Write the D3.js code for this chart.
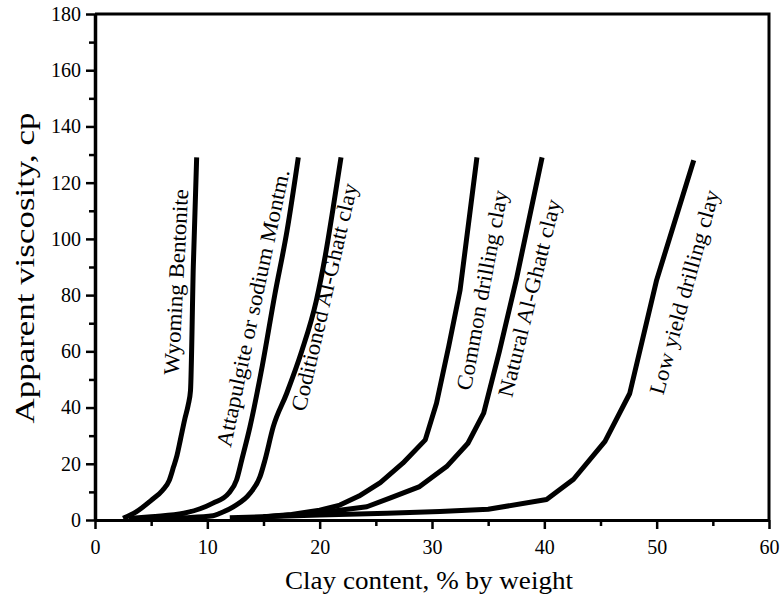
<!DOCTYPE html>
<html lang="en">
  <head>
    <meta charset="UTF-8" />
    <title>Apparent viscosity vs clay content</title>
    <script src="https://d3js.org/d3.v7.min.js"></script>
    <style>
      body {
        margin: 0;
        background: #fff;
      }
    </style>
  </head>
  <body>
    <div class="chart"></div>
  </body>

  <script>
    // clay content (% by weight) and apparent viscosity (cp)
    var wyomingX = [2.5, 3.7, 5.0, 6.0, 6.6, 7.0, 7.3, 7.6, 8.0, 8.3, 8.5, 8.75, 9.05];
    var wyomingY = [0.6, 3, 7, 10.5, 14, 19, 23, 28.5, 36, 41, 46, 90, 129];

    var attapulgiteX = [3, 5, 7.9, 9.35, 10.5, 11.9, 12.6, 13.06, 13.8, 14.9, 16.0, 17.1, 18.1];
    var attapulgiteY = [0.5, 1.2, 2.4, 4, 6, 9.5, 14.2, 21.3, 33.2, 55, 80, 103, 129];

    var coditionedX = [5, 8, 10.5, 11.13, 12.31, 13.8, 14.69, 15.13, 15.87, 17.06, 18.4, 19.7, 20.5, 21.2, 21.9];
    var coditionedY = [0.5, 0.8, 1.5, 2.4, 4.7, 9.5, 15.4, 21.3, 33.2, 45, 60, 78, 94, 111, 129];

    var commonX = [12, 15, 17.5, 20, 21.8, 23.5, 25.4, 27.4, 29.4, 30.4, 31.5, 32.5, 34.0];
    var commonY = [0.8, 1.2, 2, 3.5, 5.3, 8.5, 13.3, 20.2, 28.5, 41.5, 62, 81.8, 129];

    var naturalX = [14, 17.4, 20.9, 24.2, 26.3, 28.9, 31.3, 33.2, 34.6, 36, 37.5, 39.8];
    var naturalY = [0.8, 1.8, 3, 4.7, 7.9, 11.9, 19, 27.3, 38, 60, 85.4, 129];

    var lowYieldX = [15, 20, 26, 30.7, 35, 40.2, 42.6, 45.4, 47.6, 50, 53.3];
    var lowYieldY = [1.2, 1.8, 2.4, 3, 3.8, 7.3, 14.5, 28, 45, 85.4, 128];

    var curveNames = [
      "Wyoming Bentonite",
      "Attapulgite or sodium Montm.",
      "Coditioned Al-Ghatt clay",
      "Common drilling clay",
      "Natural Al-Ghatt clay",
      "Low yield drilling clay",
    ];

    var xTicks = [0, 10, 20, 30, 40, 50, 60];
    var yTicks = [0, 20, 40, 60, 80, 100, 120, 140, 160, 180];

    var serif = '"Liberation Serif", "Times New Roman", "DejaVu Serif", serif';

    var margin = { top: 14, right: 14, bottom: 83, left: 95 };
    var width = 783 - margin.left - margin.right;
    var height = 603 - margin.top - margin.bottom;

    var svg = d3
      .select(".chart")
      .append("svg")
      .attr("width", width + margin.left + margin.right)
      .attr("height", height + margin.top + margin.bottom)
      .append("g")
      .attr("transform", "translate(" + margin.left + "," + margin.top + ")");

    var x = d3.scaleLinear().domain([0, 60]).range([0, width]);
    var y = d3.scaleLinear().domain([0, 180]).range([height, 0]);

    // the first three curves are drawn smooth, the others as broken lines like the original
    var curveKinds = [
      d3.curveMonotoneX,
      d3.curveMonotoneX,
      d3.curveMonotoneX,
      d3.curveLinear,
      d3.curveLinear,
      d3.curveLinear,
    ];

    var series = [
      { xs: wyomingX, ys: wyomingY },
      { xs: attapulgiteX, ys: attapulgiteY },
      { xs: coditionedX, ys: coditionedY },
      { xs: commonX, ys: commonY },
      { xs: naturalX, ys: naturalY },
      { xs: lowYieldX, ys: lowYieldY },
    ].map(function (s, i) {
      return {
        name: curveNames[i],
        curve: curveKinds[i],
        points: s.xs.map(function (v, j) {
          return [v, s.ys[j]];
        }),
      };
    });

    // label placement (data units), tilt in screen degrees, drawn length in px
    var labelPos = [
      { at: [7.2, 84.7], angle: -87, len: 186 },
      { at: [14.05, 75.4], angle: -78, len: 283 },
      { at: [20.4, 79.3], angle: -77, len: 233 },
      { at: [34.45, 81.8], angle: -79.5, len: 203 },
      { at: [38.65, 79.0], angle: -76, len: 203 },
      { at: [52.45, 81.1], angle: -74.5, len: 211 },
    ];

    // minor ticks
    svg
      .append("g")
      .attr("transform", "translate(0," + height + ")")
      .call(d3.axisBottom(x).tickValues([5, 15, 25, 35, 45, 55]).tickSize(6).tickFormat(""))
      .call(function (g) {
        g.select(".domain").remove();
        g.selectAll("line").attr("stroke-width", 2.5);
      });
    svg
      .append("g")
      .call(d3.axisLeft(y).tickValues([10, 30, 50, 70, 90, 110, 130, 150, 170]).tickSize(6).tickFormat(""))
      .call(function (g) {
        g.select(".domain").remove();
        g.selectAll("line").attr("stroke-width", 2.5);
      });

    // x axis
    svg
      .append("g")
      .attr("transform", "translate(0," + height + ")")
      .call(d3.axisBottom(x).tickValues(xTicks).tickSize(9).tickSizeOuter(0).tickPadding(11))
      .call(function (g) {
        g.select(".domain").attr("stroke-width", 3);
        g.selectAll("line").attr("stroke-width", 2.5);
        g.selectAll("text").style("font-family", serif).style("font-size", "20px");
      });

    // y axis
    svg
      .append("g")
      .call(d3.axisLeft(y).tickValues(yTicks).tickSize(9).tickSizeOuter(0).tickPadding(5))
      .call(function (g) {
        g.select(".domain").attr("stroke-width", 3.5);
        g.selectAll("line").attr("stroke-width", 2.5);
        g.selectAll("text").style("font-family", serif).style("font-size", "20px");
      });

    // top and right frame
    svg
      .append("path")
      .attr("fill", "none")
      .attr("stroke", "#000")
      .attr("stroke-width", 3)
      .attr("d", d3.line()([
        [x(0), y(180)],
        [x(60), y(180)],
        [x(60), y(0)],
      ]));

    svg
      .selectAll(".curve")
      .data(series)
      .enter()
      .append("path")
      .attr("class", "curve")
      .attr("fill", "none")
      .attr("stroke", "#000")
      .attr("stroke-width", 5)
      .attr("stroke-linejoin", "round")
      .attr("d", function (d) {
        return d3
          .line()
          .x(function (p) {
            return x(p[0]);
          })
          .y(function (p) {
            return y(p[1]);
          })
          .curve(d.curve)(d.points);
      });

    svg
      .selectAll(".curve-label")
      .data(series)
      .enter()
      .append("text")
      .attr("class", "curve-label")
      .attr("text-anchor", "middle")
      .attr("dominant-baseline", "central")
      .style("font-family", serif)
      .style("font-size", "22px")
      .attr("textLength", function (d, i) {
        return labelPos[i].len;
      })
      .attr("lengthAdjust", "spacingAndGlyphs")
      .attr("transform", function (d, i) {
        var p = labelPos[i];
        return "translate(" + x(p.at[0]) + "," + y(p.at[1]) + ") rotate(" + p.angle + ")";
      })
      .text(function (d) {
        return d.name;
      });

    // axis titles
    svg
      .append("text")
      .attr("text-anchor", "middle")
      .style("font-family", serif)
      .style("font-size", "27px")
      .attr("textLength", 311)
      .attr("lengthAdjust", "spacingAndGlyphs")
      .attr("transform", "translate(" + -61 + "," + 254 + ") rotate(-90)")
      .text("Apparent viscosity,  cp");

    svg
      .append("text")
      .attr("text-anchor", "middle")
      .style("font-family", serif)
      .style("font-size", "25px")
      .attr("textLength", 288)
      .attr("lengthAdjust", "spacingAndGlyphs")
      .attr("x", 334)
      .attr("y", height + 69)
      .text("Clay content,  % by weight");
  </script>
</html>
